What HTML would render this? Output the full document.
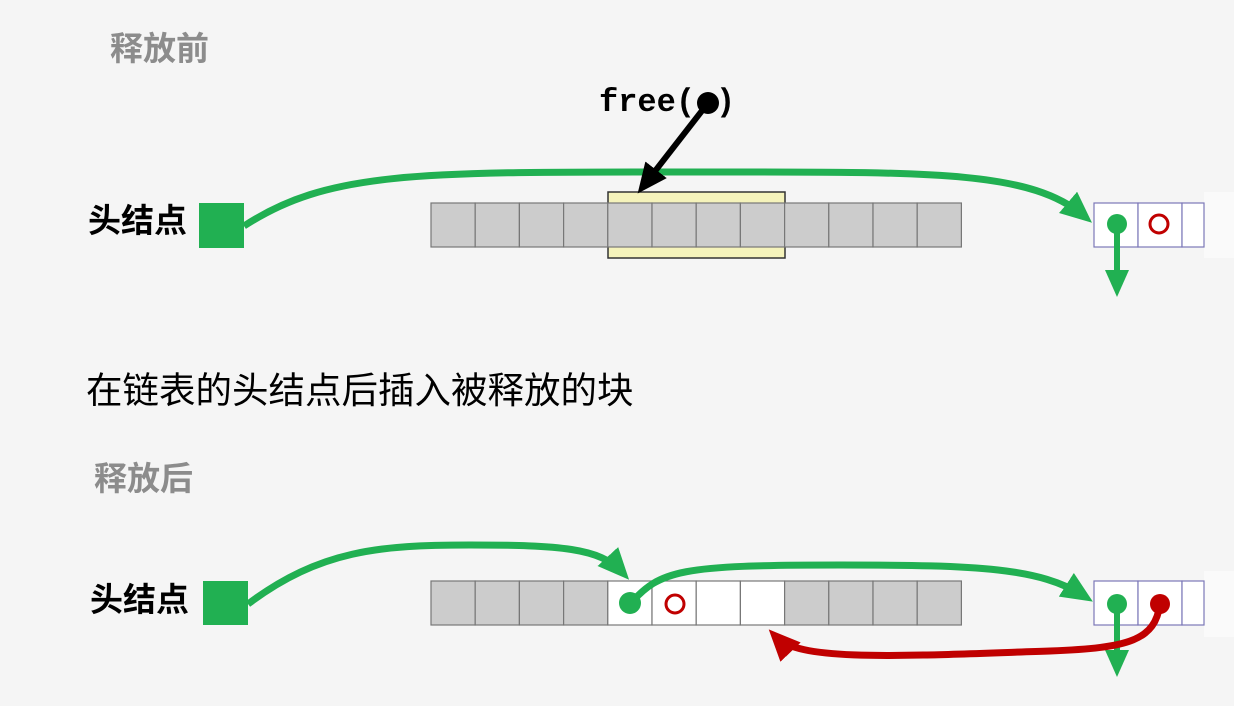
<!DOCTYPE html>
<html><head><meta charset="utf-8"><style>
html,body{margin:0;padding:0;background:#f5f5f5;}
svg{display:block;}
</style></head><body>
<svg width="1234" height="706" viewBox="0 0 1234 706" xmlns="http://www.w3.org/2000/svg" font-family="Liberation Sans, Noto Sans CJK SC, sans-serif">
<defs>
<marker id="ag" markerWidth="4.5" markerHeight="4" refX="3" refY="2" orient="auto" markerUnits="strokeWidth"><path d="M0,0 L4.5,2 L0,4 z" fill="#21b052"/></marker>
<marker id="ar" markerWidth="4.5" markerHeight="4" refX="3" refY="2" orient="auto" markerUnits="strokeWidth"><path d="M0,0 L4.5,2 L0,4 z" fill="#c00000"/></marker>
<marker id="ab" markerWidth="5" markerHeight="4.5" refX="3" refY="2.25" orient="auto" markerUnits="strokeWidth"><path d="M0,0 L5,2.25 L0,4.5 z" fill="#000"/></marker>
</defs>
<rect width="1234" height="706" fill="#f5f5f5"/>
<text x="110" y="60" font-size="33" font-weight="bold" fill="#8c8c8c">释放前</text>
<text x="88" y="232" font-size="33" font-weight="bold" fill="#000">头结点</text>
<rect x="199" y="203" width="45" height="45" fill="#21b052"/>
<rect x="608" y="192" width="177" height="66" fill="#f5f3bb" stroke="#333" stroke-width="1.5"/>
<g stroke="#777" stroke-width="1.2" fill="#cccccc">
<rect x="431" y="203" width="44.2" height="44"/><rect x="475.2" y="203" width="44.2" height="44"/><rect x="519.4" y="203" width="44.2" height="44"/><rect x="563.6" y="203" width="44.2" height="44"/><rect x="607.8" y="203" width="44.2" height="44"/><rect x="652" y="203" width="44.2" height="44"/><rect x="696.2" y="203" width="44.2" height="44"/><rect x="740.4" y="203" width="44.2" height="44"/><rect x="784.6" y="203" width="44.2" height="44"/><rect x="828.8" y="203" width="44.2" height="44"/><rect x="873" y="203" width="44.2" height="44"/><rect x="917.2" y="203" width="44.2" height="44"/>
</g>
<rect x="1204" y="192" width="30" height="66" fill="#fafafa"/>
<g stroke="#7b77b8" stroke-width="1.2" fill="#fff">
<rect x="1094" y="203" width="44" height="44"/><rect x="1138" y="203" width="44" height="44"/><rect x="1182" y="203" width="22" height="44"/>
</g>
<path d="M244,226 C330,170 420,172 700,172 C930,172 1030,170 1084,216" fill="none" stroke="#21b052" stroke-width="7" marker-end="url(#ag)"/>
<circle cx="1117" cy="224" r="10" fill="#21b052"/>
<line x1="1117" y1="224" x2="1117" y2="288" stroke="#21b052" stroke-width="6" marker-end="url(#ag)"/>
<circle cx="1159" cy="224" r="9" fill="none" stroke="#c00000" stroke-width="3"/>
<text x="599" y="111" font-family="Liberation Mono, monospace" font-size="32" font-weight="bold" fill="#000">free(</text>
<text x="716" y="111" font-family="Liberation Mono, monospace" font-size="32" font-weight="bold" fill="#000">)</text>
<circle cx="708" cy="103" r="11" fill="#000"/>
<line x1="708" y1="103" x2="645" y2="184" stroke="#000" stroke-width="6" marker-end="url(#ab)"/>
<text x="86" y="403" font-size="36.5" fill="#000">在链表的头结点后插入被释放的块</text>
<text x="94" y="490" font-size="33" font-weight="bold" fill="#8c8c8c">释放后</text>
<text x="90" y="611" font-size="33" font-weight="bold" fill="#000">头结点</text>
<rect x="203" y="581" width="45" height="44" fill="#21b052"/>
<g stroke="#777" stroke-width="1.2">
<rect x="431" y="581" width="44.2" height="44" fill="#ccc"/><rect x="475.2" y="581" width="44.2" height="44" fill="#ccc"/><rect x="519.4" y="581" width="44.2" height="44" fill="#ccc"/><rect x="563.6" y="581" width="44.2" height="44" fill="#ccc"/><rect x="607.8" y="581" width="44.2" height="44" fill="#fff"/><rect x="652" y="581" width="44.2" height="44" fill="#fff"/><rect x="696.2" y="581" width="44.2" height="44" fill="#fff"/><rect x="740.4" y="581" width="44.2" height="44" fill="#fff"/><rect x="784.6" y="581" width="44.2" height="44" fill="#ccc"/><rect x="828.8" y="581" width="44.2" height="44" fill="#ccc"/><rect x="873" y="581" width="44.2" height="44" fill="#ccc"/><rect x="917.2" y="581" width="44.2" height="44" fill="#ccc"/>
</g>
<rect x="1204" y="571" width="30" height="66" fill="#fafafa"/>
<g stroke="#7b77b8" stroke-width="1.2" fill="#fff">
<rect x="1094" y="581" width="44" height="44"/><rect x="1138" y="581" width="44" height="44"/><rect x="1182" y="581" width="22" height="44"/>
</g>
<path d="M248,604 C320,550 380,545 470,545 C560,545 600,548 622,572" fill="none" stroke="#21b052" stroke-width="7" marker-end="url(#ag)"/>
<path d="M630,604 C660,570 680,565 840,565 C980,565 1040,568 1084,596" fill="none" stroke="#21b052" stroke-width="7" marker-end="url(#ag)"/>
<circle cx="630" cy="603" r="11" fill="#21b052"/>
<circle cx="675" cy="604" r="9" fill="none" stroke="#c00000" stroke-width="3"/>
<circle cx="1117" cy="604" r="10" fill="#21b052"/>
<line x1="1117" y1="604" x2="1117" y2="668" stroke="#21b052" stroke-width="6" marker-end="url(#ag)"/>
<circle cx="1160" cy="604" r="10" fill="#c00000"/>
<path d="M1160,604 C1155,640 1130,648 1050,651 C900,656 800,662 776,637" fill="none" stroke="#c00000" stroke-width="7" marker-end="url(#ar)"/>
</svg>
</body></html>
